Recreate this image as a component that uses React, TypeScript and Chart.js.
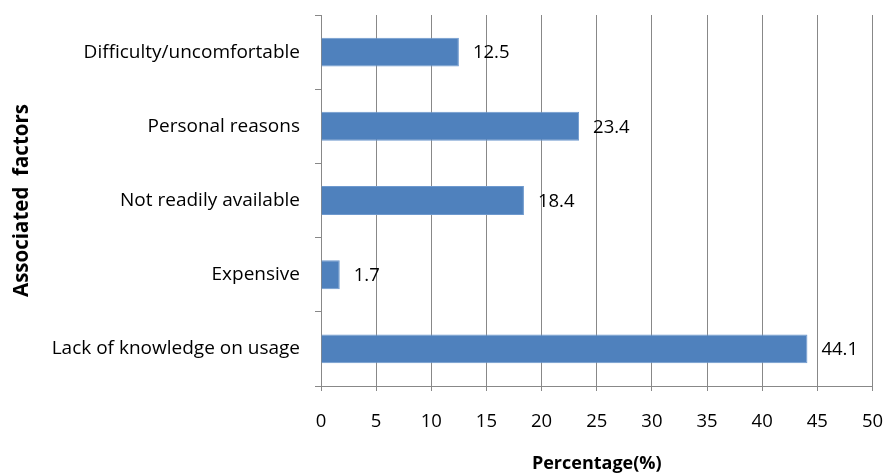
import React, { useEffect, useRef } from "react";
import { Chart, registerables } from "chart.js";

Chart.register(...registerables);

// Reasons given, listed top to bottom as they appear on the axis
const categories: string[] = [
  "Difficulty/uncomfortable",
  "Personal reasons",
  "Not readily available",
  "Expensive",
  "Lack of knowledge on usage",
];

// Share of respondents (%) for each reason
const percentages: number[] = [12.5, 23.4, 18.4, 1.7, 44.1];

// Percentage axis ticks
const xTicks: number[] = [0, 5, 10, 15, 20, 25, 30, 35, 40, 45, 50];

const FONT = "'Open Sans', 'Noto Sans', sans-serif";
const GRID = "#888888";
const BAR = "#4F81BD";

// Writes each bar's value just past its end
const valueLabels = {
  id: "valueLabels",
  afterDatasetsDraw(chart: any) {
    const { ctx } = chart;
    const meta = chart.getDatasetMeta(0);
    ctx.save();
    ctx.font = `18.5px ${FONT}`;
    ctx.fillStyle = "#000";
    ctx.textAlign = "left";
    ctx.textBaseline = "middle";
    meta.data.forEach((bar: any, i: number) => {
      ctx.fillText(String(percentages[i]), bar.x + 14, bar.y + 1);
    });
    ctx.restore();
  },
};

export default function App() {
  const canvasRef = useRef<HTMLCanvasElement | null>(null);

  useEffect(() => {
    if (!canvasRef.current) return;
    const chart = new Chart(canvasRef.current, {
      type: "bar",
      data: {
        labels: categories,
        datasets: [
          {
            data: percentages,
            backgroundColor: BAR,
            borderColor: "#6E99CE",
            borderWidth: 1,
            barPercentage: 0.39,
            categoryPercentage: 1,
          },
        ],
      },
      options: {
        indexAxis: "y",
        animation: false,
        responsive: true,
        maintainAspectRatio: false,
        layout: { padding: { top: 15, right: 12.5, left: 0, bottom: 0 } },
        plugins: {
          legend: { display: false },
          tooltip: { enabled: false },
        },
        scales: {
          x: {
            min: 0,
            max: 50,
            afterBuildTicks: (scale: any) => {
              scale.ticks = xTicks.map((v) => ({ value: v }));
            },
            afterFit: (scale: any) => {
              scale.height = 87;
              scale.paddingLeft = 0;
              scale.paddingRight = 0;
            },
            grid: {
              color: GRID,
              lineWidth: 1,
              drawTicks: true,
              tickLength: 5,
            },
            border: { display: true, color: GRID, width: 1 },
            ticks: {
              color: "#000",
              font: { family: FONT, size: 18.5 },
              padding: 20,
              maxRotation: 0,
            },
            title: {
              display: true,
              text: "Percentage(%)",
              color: "#000",
              font: { family: FONT, size: 18, weight: "bold", lineHeight: 1 },
              padding: { top: 0, bottom: 0 },
            },
          },
          y: {
            afterFit: (scale: any) => {
              scale.width = 321;
              scale.paddingTop = 0;
              scale.paddingBottom = 0;
            },
            grid: {
              color: GRID,
              lineWidth: 1,
              drawOnChartArea: false,
              drawTicks: true,
              tickLength: 6,
              offset: true,
            },
            border: { display: true, color: GRID, width: 1 },
            ticks: {
              color: "#000",
              font: { family: FONT, size: 19 },
              padding: 15,
            },
            title: {
              display: true,
              text: "Associated  factors",
              color: "#000",
              font: { family: FONT, size: 20.5, weight: "bold", lineHeight: 1 },
              padding: { top: 12, bottom: 0 },
            },
          },
        },
      },
      plugins: [valueLabels],
    });
    return () => chart.destroy();
  }, []);

  return (
    <div
      style={{
        position: "fixed",
        left: 0,
        top: 0,
        width: 885,
        height: 473,
        background: "#fff",
      }}
    >
      <canvas ref={canvasRef} />
    </div>
  );
}
